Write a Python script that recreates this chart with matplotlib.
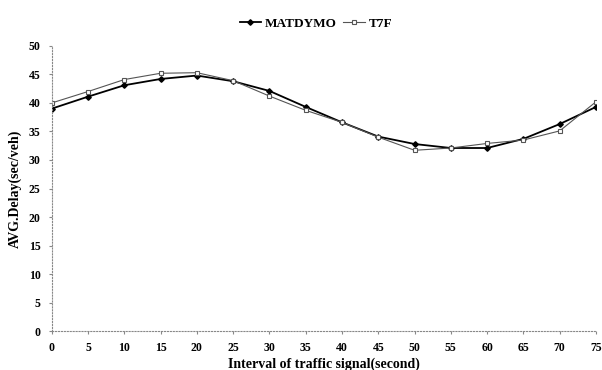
import matplotlib.pyplot as plt

# interval of traffic signal (second)
intervals = [0, 5, 10, 15, 20, 25, 30, 35, 40, 45, 50, 55, 60, 65, 70, 75]

# average delay (sec/veh)
matdymo = [39.0, 41.1, 43.1, 44.2, 44.8, 43.8, 42.1, 39.3, 36.6, 34.1, 32.8, 32.1, 32.1, 33.7, 36.3, 39.3]
t7f = [40.0, 42.0, 44.1, 45.2, 45.3, 43.9, 41.2, 38.7, 36.6, 34.0, 31.7, 32.1, 32.9, 33.5, 35.1, 40.2]

plt.rcParams['font.family'] = ['Liberation Serif', 'DejaVu Serif']
plt.rcParams['font.weight'] = 'bold'

fig = plt.figure(figsize=(6.02, 3.70), dpi=100)
ax = fig.add_axes([0.086, 0.105, 0.904, 0.771])

ax.plot(intervals, matdymo, color="black", linewidth=1.3,
        marker="D", markersize=2.8, label="MATDYMO")
ax.plot(intervals, t7f, color="#555555", linewidth=0.8,
        marker="s", markersize=3.5, markerfacecolor="white",
        markeredgecolor="#555555", markeredgewidth=0.8, label="T7F")

ax.set_xlim(0, 75)
ax.set_ylim(0, 50)
ax.set_xticks(intervals)
ax.set_yticks(range(0, 51, 5))

for side in ["top", "right"]:
    ax.spines[side].set_visible(False)
for side in ["left", "bottom"]:
    ax.spines[side].set_linestyle(":")
    ax.spines[side].set_color("#888888")
    ax.spines[side].set_linewidth(0.8)

ax.tick_params(axis="both", length=2, color="#888888", labelsize=8.5, pad=6)
for lbl in ax.get_xticklabels() + ax.get_yticklabels():
    lbl.set_fontweight("bold")

ax.set_xlabel("Interval of traffic signal(second)", fontsize=10, fontweight="bold", labelpad=2)
ax.set_ylabel("AVG.Delay(sec/veh)", fontsize=10, fontweight="bold", labelpad=5)

fig.legend(loc="upper center", bbox_to_anchor=(0.525, 0.985), ncol=2, frameon=False,
           handlelength=1.6, columnspacing=0.5, handletextpad=0.3,
           prop={"weight": "bold", "size": 9.5})

fig.savefig("out.png", dpi=100)
